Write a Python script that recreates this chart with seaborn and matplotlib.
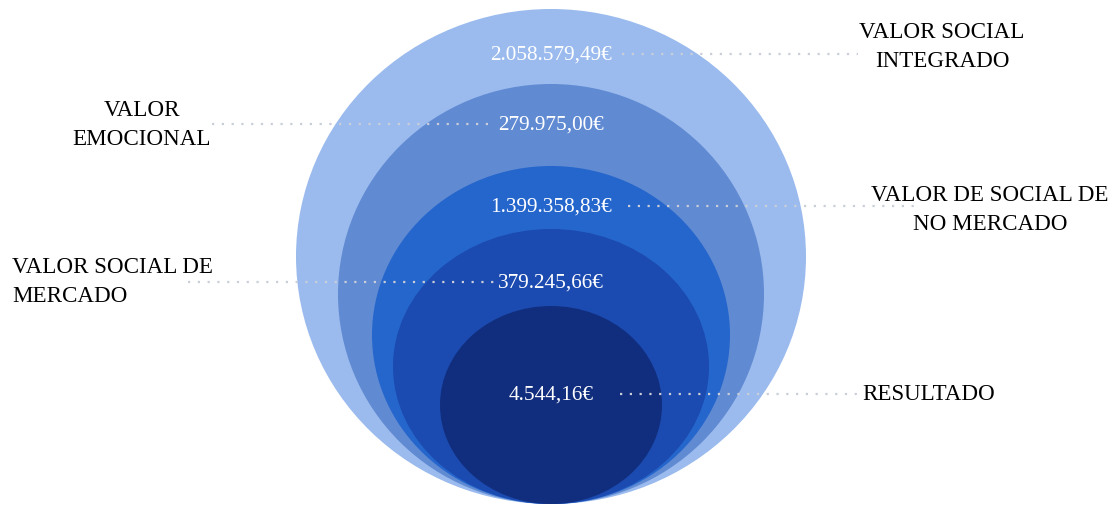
# Nested-circle chart of the integrated social value components
import seaborn as sns
import matplotlib.pyplot as plt
import pandas as pd
from matplotlib.patches import Ellipse

# Data: outer layer first
values = ["2.058.579,49€", "279.975,00€", "1.399.358,83€", "379.245,66€", "4.544,16€"]
names = ["VALOR SOCIAL\nINTEGRADO", "VALOR\nEMOCIONAL", "VALOR DE SOCIAL DE\nNO MERCADO",
         "VALOR SOCIAL DE\nMERCADO", "RESULTADO"]

# Layout (pixel coordinates, y down)
colors = ["#9bbbee", "#608ad2", "#2566cc", "#1b4ab0", "#112e7e"]
widths = [510, 426, 358, 316, 222]
tops = [10, 85, 167, 230, 307]
bottom = 505
cx = 551
value_y = [55, 125, 207, 283, 395]
lines = [(622, 858), (212, 492), (628, 917), (188, 494), (620, 858)]
label_pos = [(942, 47, "center"), (142, 125, "center"), (990, 210, "center"),
             (12, 282, "left"), (862, 395, "left")]

sns.set_theme(style="white")
plt.rcParams['font.family'] = ['Liberation Serif', 'DejaVu Serif']

fig = plt.figure(figsize=(11.15, 5.06), dpi=100)
ax = fig.add_axes([0, 0, 1, 1])
ax.set_xlim(0, 1115)
ax.set_ylim(506, 0)
ax.axis("off")

for w, t, c in zip(widths, tops, colors):
    h = bottom - t
    ax.add_patch(Ellipse((cx, t + h / 2), w, h, color=c, lw=0, zorder=1))

# dotted leader lines
for i, (x0, x1) in enumerate(lines):
    df = pd.DataFrame({"x": [x0, x1], "y": [value_y[i], value_y[i]]})
    sns.lineplot(data=df, x="x", y="y", ax=ax, color="#c9ced8", lw=1.6,
                 linestyle=(0, (1, 3.4)), zorder=2)

for v, y in zip(values, value_y):
    ax.text(cx, y, v, color="white", fontsize=15.3, ha="center", va="center", zorder=3)

for name, (x, y, ha) in zip(names, label_pos):
    ax.text(x, y, name, color="black", fontsize=16.6, ha=ha, va="center",
            multialignment=ha, linespacing=1.55, zorder=3)

ax.set_xlim(0, 1115)
ax.set_ylim(506, 0)
ax.set_xlabel("")
ax.set_ylabel("")
fig.savefig("out.png", dpi=100)
